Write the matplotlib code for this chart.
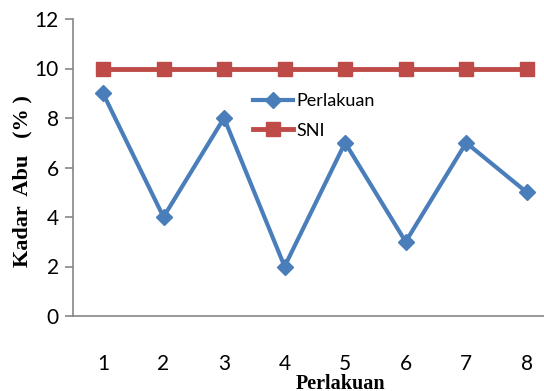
import matplotlib
matplotlib.use("Agg")
import matplotlib.pyplot as plt

# data
perlakuan = [1, 2, 3, 4, 5, 6, 7, 8]
kadar_abu = [9, 4, 8, 2, 7, 3, 7, 5]
sni = [10, 10, 10, 10, 10, 10, 10, 10]
yticks = [0, 2, 4, 6, 8, 10, 12]

tick_font = "Lato"

W, H = 544, 391
fig = plt.figure(figsize=(W / 100, H / 100), dpi=100)
# axes box in pixels: left 72.7, right 557 (cut off), top 19, bottom 316
ax = fig.add_axes([72.7 / W, (H - 316) / H, (557 - 72.7) / W, (316 - 19) / H])

ax.plot(perlakuan, kadar_abu, color="#4A7EBB", lw=3, marker="D", ms=8,
        label="Perlakuan", zorder=3)
ax.plot(perlakuan, sni, color="#BE4B48", lw=3.5, marker="s", ms=9.5,
        label="SNI", zorder=2)

ax.set_xlim(0.5, 8.5)
ax.set_ylim(0, 12)
ax.set_yticks(yticks)
ax.set_xticks(perlakuan)

for s in ["top", "right"]:
    ax.spines[s].set_visible(False)
ax.spines["left"].set_color("#868686")
ax.spines["bottom"].set_color("#868686")
ax.spines["left"].set_linewidth(1.2)
ax.spines["bottom"].set_linewidth(1.2)

ax.tick_params(axis="y", direction="out", length=6, width=1.2, color="#868686",
               labelsize=15, pad=4)
ax.tick_params(axis="x", length=0, labelsize=15, pad=27)
for lab in ax.get_xticklabels() + ax.get_yticklabels():
    lab.set_family(tick_font)

ax.set_xlabel("Perlakuan", fontfamily="Liberation Serif", fontweight="bold",
              fontsize=14.5, va="baseline")
ax.xaxis.set_label_coords((340 - 72.7) / 484.3, (316 - 389) / 297)
ax.set_ylabel("Kadar  Abu   (% )", fontfamily="Liberation Serif", fontweight="bold",
              fontsize=16, va="baseline")
ax.yaxis.set_label_coords((27.5 - 72.7) / 484.3, (316 - 181) / 297)

leg = ax.legend(loc="upper left", bbox_to_anchor=(246 / W, (H - 86) / H),
                bbox_transform=fig.transFigure, frameon=False,
                prop={"family": tick_font, "size": 13},
                handlelength=2.2, handletextpad=0.2, labelspacing=0.75,
                borderaxespad=0)

fig.savefig("out.png", dpi=100)
